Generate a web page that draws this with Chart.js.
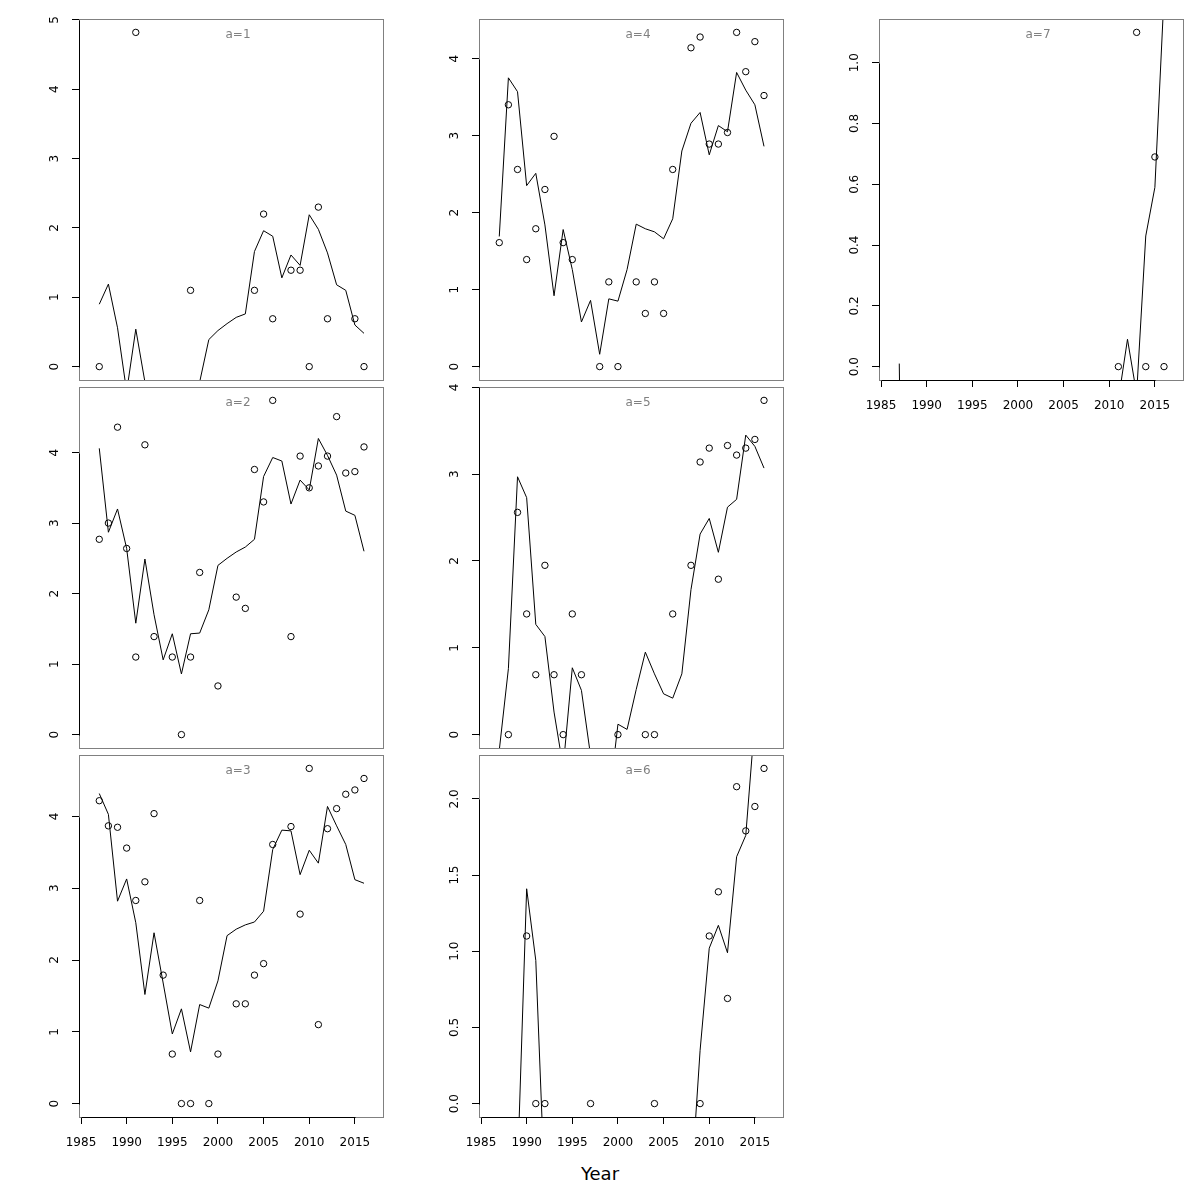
<!DOCTYPE html>
<html>
<head>
<meta charset="utf-8">
<script src="https://cdn.jsdelivr.net/npm/chart.js@4.4.1/dist/chart.umd.min.js"></script>
<style>
  body { margin: 0; background: #fff; }
  #wrap { position: relative; width: 1200px; height: 1200px; background: #fff; font-family: "DejaVu Sans", sans-serif; }
  #wrap canvas { position: absolute; }
  #xtitle { position: absolute; left: 0; width: 1200px; top: 1163px; text-align: center; font-size: 18px; line-height: 22px; color: #000; }
</style>
</head>
<body>
<div id="wrap"><div id="xtitle">Year</div></div>
<script>
// years on the x axis
const years = [1987, 1988, 1989, 1990, 1991, 1992, 1993, 1994, 1995, 1996,
               1997, 1998, 1999, 2000, 2001, 2002, 2003, 2004, 2005, 2006,
               2007, 2008, 2009, 2010, 2011, 2012, 2013, 2014, 2015, 2016];
const xTicks = [1985, 1990, 1995, 2000, 2005, 2010, 2015];

// observed values (circles), null = no observation
const obs1 = [0, null, null, null, 4.82, null, null, null, null, null, 1.10, null, null, null, null,
              null, null, 1.10, 2.20, 0.69, null, 1.39, 1.39, 0, 2.30, 0.69, null, null, 0.69, 0];
const obs2 = [2.77, 3.00, 4.36, 2.64, 1.10, 4.11, 1.39, null, 1.10, 0, 1.10, 2.30, null, 0.69, null,
              1.95, 1.79, 3.76, 3.30, 4.74, null, 1.39, 3.95, 3.50, 3.81, 3.95, 4.51, 3.71, 3.73, 4.08];
const obs3 = [4.22, 3.87, 3.85, 3.56, 2.83, 3.09, 4.04, 1.79, 0.69, 0, 0, 2.83, 0, 0.69, null,
              1.39, 1.39, 1.79, 1.95, 3.61, null, 3.86, 2.64, 4.67, 1.10, 3.83, 4.11, 4.31, 4.37, 4.53];
const obs4 = [1.61, 3.40, 2.56, 1.39, 1.79, 2.30, 2.99, 1.61, 1.39, null, null, 0, 1.10, 0, null,
              1.10, 0.69, 1.10, 0.69, 2.56, null, 4.14, 4.28, 2.89, 2.89, 3.04, 4.34, 3.83, 4.22, 3.52];
const obs5 = [null, 0, 2.56, 1.39, 0.69, 1.95, 0.69, 0, 1.39, 0.69, null, null, null, 0, null,
              null, 0, 0, null, 1.39, null, 1.95, 3.14, 3.30, 1.79, 3.33, 3.22, 3.30, 3.40, 3.85];
const obs6 = [null, null, null, 1.10, 0, 0, null, null, null, null, 0, null, null, null, null,
              null, null, 0, null, null, null, null, 0, 1.10, 1.39, 0.69, 2.08, 1.79, 1.95, 2.20];
const obs7 = [null, null, null, null, null, null, null, null, null, null, null, null, null, null, null,
              null, null, null, null, null, null, null, null, null, 0, null, 1.10, 0, 0.69, 0];

// fitted values (line)
const fit1 = [0.90, 1.19, 0.56, -0.36, 0.54, -0.22, -0.60, -0.80, -0.90, -0.70, -0.50, -0.22, 0.39, 0.52, 0.62,
              0.71, 0.76, 1.66, 1.96, 1.88, 1.28, 1.61, 1.46, 2.19, 1.98, 1.64, 1.18, 1.10, 0.60, 0.48];
const fit2 = [4.06, 2.87, 3.20, 2.64, 1.58, 2.49, 1.70, 1.06, 1.43, 0.86, 1.43, 1.44, 1.77, 2.40, 2.50,
              2.59, 2.66, 2.77, 3.66, 3.93, 3.88, 3.27, 3.61, 3.47, 4.20, 3.96, 3.68, 3.17, 3.11, 2.60];
const fit3 = [4.32, 4.03, 2.82, 3.13, 2.52, 1.52, 2.38, 1.68, 0.97, 1.32, 0.72, 1.38, 1.33, 1.71, 2.34,
              2.43, 2.49, 2.53, 2.68, 3.54, 3.81, 3.80, 3.19, 3.53, 3.35, 4.14, 3.87, 3.61, 3.12, 3.07];
const fit4 = [1.69, 3.75, 3.57, 2.35, 2.51, 1.84, 0.92, 1.78, 1.26, 0.58, 0.86, 0.16, 0.88, 0.85, 1.26,
              1.85, 1.79, 1.75, 1.66, 1.92, 2.80, 3.16, 3.30, 2.75, 3.13, 3.05, 3.82, 3.59, 3.40, 2.86];
const fit5 = [-0.18, 0.76, 2.97, 2.73, 1.27, 1.13, 0.26, -0.38, 0.77, 0.51, -0.24, -0.90, -0.79, 0.12, 0.06,
              0.52, 0.95, 0.70, 0.47, 0.42, 0.70, 1.67, 2.31, 2.49, 2.10, 2.62, 2.71, 3.45, 3.32, 3.07];
const fit6 = [-1.50, -1.00, -0.43, 1.41, 0.94, -0.59, -1.20, -1.80, -2.00, -2.20, -2.00, -1.90, -1.70, -1.60, -1.50,
              -1.40, -1.30, -1.20, -1.00, -0.90, -0.80, -0.56, 0.35, 1.02, 1.17, 0.99, 1.62, 1.76, 2.52, 2.90];
const fit7 = [0.01, -2.10, -2.40, -2.60, -2.70, -2.80, -2.90, -3.00, -3.00, -3.00, -2.90, -2.90, -2.80, -2.70, -2.60,
              -2.50, -2.40, -2.20, -2.00, -1.80, -1.60, -1.40, -1.20, -0.90, -0.11, 0.09, -0.09, 0.43, 0.59, 1.22];

// y tick values and labels per panel
const yTicksInt5 = [0, 1, 2, 3, 4, 5];
const yTicksInt4 = [0, 1, 2, 3, 4];
const yTicks6 = [0, 0.5, 1, 1.5, 2];
const yLabels6 = ['0.0', '0.5', '1.0', '1.5', '2.0'];
const yTicks7 = [0, 0.2, 0.4, 0.6, 0.8, 1.0];
const yLabels7 = ['0.0', '0.2', '0.4', '0.6', '0.8', '1.0'];

Chart.defaults.font.family = '"DejaVu Sans", sans-serif';
Chart.defaults.font.size = 12;
Chart.defaults.color = '#000';

const colLeft = [0, 400, 800];
const rowTop = [19, 387, 755];
const rowH = [361, 361, 362];

const panels = [
  { title: 'a=1', obs: obs1, fit: fit1, yTicks: yTicksInt5, yLabels: yTicksInt5.map(String), yMin: -0.193, yMax: 5.013, col: 0, row: 0, xAxis: false },
  { title: 'a=2', obs: obs2, fit: fit2, yTicks: yTicksInt4, yLabels: yTicksInt4.map(String), yMin: -0.190, yMax: 4.930, col: 0, row: 1, xAxis: false },
  { title: 'a=3', obs: obs3, fit: fit3, yTicks: yTicksInt4, yLabels: yTicksInt4.map(String), yMin: -0.187, yMax: 4.857, col: 0, row: 2, xAxis: true },
  { title: 'a=4', obs: obs4, fit: fit4, yTicks: yTicksInt4, yLabels: yTicksInt4.map(String), yMin: -0.174, yMax: 4.514, col: 1, row: 0, xAxis: false },
  { title: 'a=5', obs: obs5, fit: fit5, yTicks: yTicksInt4, yLabels: yTicksInt4.map(String), yMin: -0.154, yMax: 4.004, col: 1, row: 1, xAxis: false },
  { title: 'a=6', obs: obs6, fit: fit6, yTicks: yTicks6, yLabels: yLabels6, yMin: -0.088, yMax: 2.288, col: 1, row: 2, xAxis: true },
  { title: 'a=7', obs: obs7, fit: fit7, yTicks: yTicks7, yLabels: yLabels7, yMin: -0.044, yMax: 1.144, col: 2, row: 0, xAxis: true }
];

// draws the box, axis lines, rotated y labels and the panel title
const panelDecor = {
  id: 'panelDecor',
  afterDraw(chart, args, opts) {
    const ctx = chart.ctx;
    const a = chart.chartArea;
    const ys = chart.scales.y;
    const xs = chart.scales.x;
    ctx.save();
    ctx.lineWidth = 1;
    ctx.strokeStyle = '#808080';
    ctx.strokeRect(a.left + 0.5, a.top + 0.5, a.right - a.left, a.bottom - a.top);

    // y axis line, first to last tick
    const yt = opts.yTicks;
    ctx.strokeStyle = '#000';
    ctx.beginPath();
    ctx.moveTo(a.left + 0.5, Math.round(ys.getPixelForValue(yt[0])) + 0.5);
    ctx.lineTo(a.left + 0.5, Math.round(ys.getPixelForValue(yt[yt.length - 1])) + 0.5);
    ctx.stroke();

    // x axis line on the bottom panels
    if (opts.xAxis) {
      ctx.beginPath();
      ctx.moveTo(Math.round(xs.getPixelForValue(xTicks[0])) + 0.5, a.bottom + 0.5);
      ctx.lineTo(Math.round(xs.getPixelForValue(xTicks[xTicks.length - 1])) + 0.5, a.bottom + 0.5);
      ctx.stroke();
    }

    // rotated y tick labels
    ctx.fillStyle = '#000';
    ctx.font = '12px "DejaVu Sans", sans-serif';
    ctx.textAlign = 'center';
    ctx.textBaseline = 'middle';
    yt.forEach((v, i) => {
      ctx.save();
      ctx.translate(a.left - 24, ys.getPixelForValue(v));
      ctx.rotate(-Math.PI / 2);
      ctx.fillText(opts.yLabels[i], 0, 0);
      ctx.restore();
    });

    // panel title
    ctx.fillStyle = '#808080';
    ctx.fillText(opts.title, (a.left + a.right) / 2 + 7, a.top + 16);
    ctx.restore();
  }
};

const wrap = document.getElementById('wrap');

panels.forEach(function(p) {
  const canvas = document.createElement('canvas');
  const h = 19 + rowH[p.row] + 60;
  canvas.width = 400;
  canvas.height = h;
  canvas.style.left = colLeft[p.col] + 'px';
  canvas.style.top = (rowTop[p.row] - 19) + 'px';
  canvas.style.width = '400px';
  canvas.style.height = h + 'px';
  wrap.appendChild(canvas);

  new Chart(canvas.getContext('2d'), {
    type: 'scatter',
    data: {
      datasets: [{
        label: 'fitted',
        data: years.map((yr, i) => ({ x: yr, y: p.fit[i] })),
        showLine: true,
        borderColor: '#000',
        borderWidth: 1,
        pointRadius: 0,
        tension: 0,
        clip: 0
      }, {
        label: 'observed',
        data: years.map((yr, i) => ({ x: yr, y: p.obs[i] })),
        showLine: false,
        pointStyle: 'circle',
        pointRadius: 3.2,
        borderWidth: 1,
        borderColor: '#000',
        backgroundColor: 'rgba(0,0,0,0)'
      }]
    },
    options: {
      responsive: false,
      animation: false,
      devicePixelRatio: 1,
      layout: { padding: { top: 19, right: 17, left: 0, bottom: p.xAxis ? 0 : 60 } },
      plugins: {
        legend: { display: false },
        tooltip: { enabled: false },
        panelDecor: { title: p.title, yTicks: p.yTicks, yLabels: p.yLabels, xAxis: p.xAxis }
      },
      scales: {
        x: {
          type: 'linear',
          display: p.xAxis,
          min: 1984.78,
          max: 2018.08,
          afterBuildTicks: s => { s.ticks = xTicks.map(v => ({ value: v })); },
          afterFit: s => { s.height = p.xAxis ? 60 : 0; },
          border: { display: false },
          grid: { display: true, drawOnChartArea: false, drawTicks: true, tickLength: 7, color: '#000', lineWidth: 1 },
          ticks: { autoSkip: false, maxRotation: 0, minRotation: 0, padding: 12, color: '#000',
                   font: { size: 12 }, callback: v => String(v) }
        },
        y: {
          type: 'linear',
          min: p.yMin,
          max: p.yMax,
          afterBuildTicks: s => { s.ticks = p.yTicks.map(v => ({ value: v })); },
          afterFit: s => { s.width = 79; },
          border: { display: false },
          grid: { display: true, drawOnChartArea: false, drawTicks: true, tickLength: 7, color: '#000', lineWidth: 1 },
          ticks: { display: false }
        }
      }
    },
    plugins: [panelDecor]
  });
});
</script>
</body>
</html>
